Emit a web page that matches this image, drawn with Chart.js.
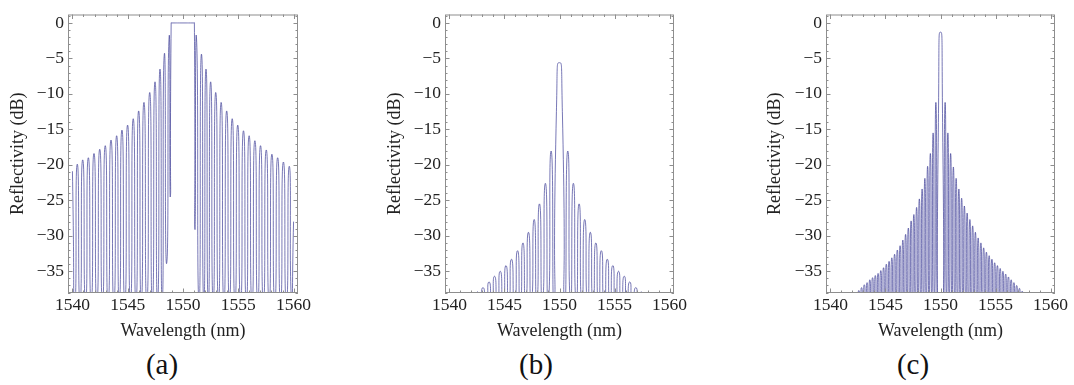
<!DOCTYPE html>
<html><head><meta charset="utf-8">
<script src="https://cdn.jsdelivr.net/npm/chart.js@4.4.1/dist/chart.umd.min.js"></script>
<style>
html,body{margin:0;padding:0;background:#fff;width:1074px;height:385px;overflow:hidden;position:relative;}
canvas{position:absolute;top:0;}
.cap{position:absolute;top:364px;font-family:"Liberation Serif",serif;font-size:29px;color:#111;transform:translate(-50%,-50%);white-space:nowrap;}
</style></head><body>
<canvas id="ca" width="320" height="345" style="left:0px"></canvas>
<canvas id="cb" width="323" height="345" style="left:377px"></canvas>
<canvas id="cc" width="317" height="345" style="left:757px"></canvas>
<div class="cap" style="left:162px">(a)</div>
<div class="cap" style="left:536px">(b)</div>
<div class="cap" style="left:913px">(c)</div>
<script>
// ---- data (wavelength in nm, reflectivity in dB) ----
// N = a null of the spectrum, just below the bottom of the axis
const N = -39.3;
const xTickLabels = [1540, 1545, 1550, 1555, 1560];
const yTickLabels = [0, -5, -10, -15, -20, -25, -30, -35];

const aWl = [1540.00,1540.22,1540.44,1540.69,1540.93,1541.19,1541.44,1541.70,1541.95,1542.21,1542.47,1542.72,1542.97,1543.23,1543.49,1543.75,1544.00,1544.24,1544.48,1544.74,1544.99,1545.25,1545.50,1545.75,1545.99,1546.23,1546.47,1546.73,1546.99,1547.23,1547.47,1547.70,1547.92,1548.12,1548.31,1548.52,1548.74,1548.85,1548.93,1549.00,1550.00,1550.96,1551.03,1551.08,1551.22,1551.45,1551.67,1551.88,1552.08,1552.29,1552.50,1552.73,1552.96,1553.21,1553.45,1553.70,1553.95,1554.20,1554.45,1554.70,1554.95,1555.21,1555.47,1555.73,1555.98,1556.24,1556.50,1556.76,1557.01,1557.27,1557.53,1557.79,1558.04,1558.30,1558.56,1558.82,1559.08,1559.35,1559.61,1559.82,1560.00];
const aDb = [-20.9,N,-19.9,N,-19.3,N,-19.0,N,-18.4,N,-17.8,N,-17.3,N,-16.5,N,-15.9,N,-15.1,N,-14.4,N,-13.5,N,-12.4,N,-11.2,N,-9.8,N,-8.3,N,-6.5,N,-4.4,-33.9,-2.1,-24.5,0,0,0,0,0,-29.1,-2.1,N,-4.4,N,-6.5,N,-8.3,N,-9.8,N,-11.2,N,-12.4,N,-13.5,N,-14.4,N,-15.2,N,-15.9,N,-16.6,N,-17.3,N,-17.9,N,-18.5,N,-19.0,N,-19.6,N,-20.2,N,-28];

const bWl = [1540.00,1542.30,1542.56,1542.80,1543.05,1543.33,1543.60,1543.85,1544.10,1544.36,1544.62,1544.88,1545.14,1545.39,1545.64,1545.92,1546.19,1546.44,1546.68,1546.93,1547.18,1547.44,1547.70,1547.94,1548.18,1548.45,1548.72,1548.98,1549.24,1549.50,1549.72,1549.99,1550.26,1550.48,1550.75,1551.00,1551.26,1551.52,1551.78,1552.03,1552.29,1552.55,1552.80,1553.05,1553.30,1553.55,1553.80,1554.07,1554.34,1554.59,1554.84,1555.10,1555.36,1555.62,1555.88,1556.13,1556.38,1556.65,1556.93,1557.18,1557.42,1557.68,1560.00];
const bDb = [N,N,-37.9,N,-37.3,N,-36.5,N,-35.7,N,-35.0,N,-34.2,N,-33.3,N,-32.1,N,-31.0,N,-29.5,N,-27.7,N,-25.5,N,-22.6,N,-18.05,N,-12.5,-5.6,-12.5,N,-18.05,N,-22.6,N,-25.5,N,-27.7,N,-29.5,N,-31.0,N,-32.1,N,-33.3,N,-34.2,N,-35.0,N,-35.7,N,-36.5,N,-37.3,N,-37.9,N,N];

const cWl = [1540.00,1542.21,1542.33,1542.46,1542.58,1542.71,1542.83,1542.96,1543.08,1543.21,1543.33,1543.46,1543.58,1543.71,1543.83,1543.96,1544.08,1544.21,1544.33,1544.46,1544.58,1544.71,1544.83,1544.96,1545.08,1545.21,1545.33,1545.46,1545.58,1545.71,1545.83,1545.96,1546.08,1546.21,1546.33,1546.46,1546.58,1546.71,1546.83,1546.96,1547.08,1547.21,1547.33,1547.46,1547.58,1547.71,1547.83,1547.96,1548.08,1548.21,1548.33,1548.46,1548.58,1548.71,1548.83,1548.96,1549.08,1549.21,1549.33,1549.46,1549.58,1549.71,1549.78,1550.00,1550.22,1550.29,1550.42,1550.54,1550.67,1550.79,1550.92,1551.04,1551.17,1551.29,1551.42,1551.54,1551.67,1551.79,1551.92,1552.04,1552.17,1552.29,1552.42,1552.54,1552.67,1552.79,1552.92,1553.04,1553.17,1553.29,1553.42,1553.54,1553.67,1553.79,1553.92,1554.04,1554.17,1554.29,1554.42,1554.54,1554.67,1554.79,1554.92,1555.04,1555.17,1555.29,1555.42,1555.54,1555.67,1555.79,1555.92,1556.04,1556.17,1556.29,1556.42,1556.54,1556.67,1556.79,1556.92,1557.04,1557.17,1557.29,1557.42,1557.54,1557.67,1557.79,1560.00];
const cDb = [N,N,-38.0,N,-37.7,N,-37.3,N,-36.9,N,-36.6,N,-36.2,N,-35.9,N,-35.6,N,-35.3,N,-34.9,N,-34.5,N,-34.0,N,-33.6,N,-33.1,N,-32.6,N,-32.0,N,-31.4,N,-30.6,N,-29.8,N,-28.9,N,-27.9,N,-27.0,N,-26.0,N,-24.8,N,-23.4,N,-21.9,N,-20.2,N,-18.4,N,-15.5,N,-11.2,N,-18.4,-1.3,-18.4,N,-11.2,N,-15.5,N,-18.4,N,-20.3,N,-21.9,N,-23.4,N,-24.7,N,-25.8,N,-26.8,N,-27.7,N,-28.6,N,-29.5,N,-30.3,N,-31.0,N,-31.7,N,-32.3,N,-32.8,N,-33.3,N,-33.8,N,-34.2,N,-34.6,N,-35.0,N,-35.4,N,-35.8,N,-36.2,N,-36.6,N,-37.0,N,-37.4,N,-37.8,N,-38.1,N,N];

// ---- drawing ----
const FONT = '"Liberation Serif", "Times New Roman", serif';
const framePlugin = {
  id: 'frame',
  afterDatasetsDraw(chart) {
    const {ctx, chartArea: a, scales: {x, y}} = chart;
    ctx.save();
    ctx.strokeStyle = '#8e8e8e';
    ctx.lineWidth = 1;
    ctx.strokeRect(a.left + 0.5, a.top + 0.5, a.right - a.left - 1, a.bottom - a.top - 1);
    ctx.beginPath();
    for (let v = 1540; v <= 1560; v++) {
      const L = v % 5 === 0 ? 4.5 : 2.5;
      const px = Math.round(x.getPixelForValue(v)) + 0.5;
      ctx.moveTo(px, a.bottom); ctx.lineTo(px, a.bottom - L);
      ctx.moveTo(px, a.top); ctx.lineTo(px, a.top + L);
    }
    for (let v = -38; v <= 1; v++) {
      const L = v % 5 === 0 ? 4.5 : 2.5;
      const py = Math.round(y.getPixelForValue(v)) + 0.5;
      ctx.moveTo(a.left, py); ctx.lineTo(a.left + L, py);
      ctx.moveTo(a.right, py); ctx.lineTo(a.right - L, py);
    }
    ctx.stroke();
    ctx.restore();
  }
};

function panel(id, wl, db, yAxisWidth, padRight) {
  const pts = wl.map((w, i) => ({x: w, y: db[i]}));
  return new Chart(document.getElementById(id), {
    type: 'line',
    data: {datasets: [{data: pts, borderColor: 'rgba(62,62,150,0.78)', borderWidth: 0.9, pointRadius: 0, tension: 1, fill: false}]},
    options: {
      responsive: false, animation: false, events: [],
      layout: {padding: {top: 7, right: padRight, left: 0, bottom: 0}},
      elements: {line: {capBezierPoints: false}},
      plugins: {legend: {display: false}, tooltip: {enabled: false}},
      scales: {
        x: {
          type: 'linear', min: 1539.6, max: 1560.4,
          afterBuildTicks: s => { s.ticks = xTickLabels.map(v => ({value: v})); },
          afterFit: s => { s.height = 52; },
          grid: {display: false, drawTicks: false}, border: {display: false},
          ticks: {padding: 2, color: '#222', autoSkip: false, maxRotation: 0, font: {family: FONT, size: 17.5}, callback: v => String(v)},
          title: {display: true, text: 'Wavelength (nm)', color: '#222', font: {family: FONT, size: 18}, padding: {top: 0, bottom: 2.5}}
        },
        y: {
          type: 'linear', min: -38.06, max: 1.19,
          afterBuildTicks: s => { s.ticks = yTickLabels.map(v => ({value: v})); },
          afterFit: s => { s.width = yAxisWidth; },
          grid: {display: false, drawTicks: false}, border: {display: false},
          ticks: {padding: 4, color: '#222', autoSkip: false, font: {family: FONT, size: 17.5}, callback: v => v === 0 ? '0' : '\u2212' + Math.abs(v)},
          title: {display: true, text: 'Reflectivity (dB)', color: '#222', font: {family: FONT, size: 18}, padding: {top: 7.5, bottom: 0}}
        }
      }
    },
    plugins: [framePlugin]
  });
}

panel('ca', aWl, aDb, 68, 22);
panel('cb', bWl, bDb, 68, 26);
panel('cc', cWl, cDb, 69, 19);
</script>
</body></html>
